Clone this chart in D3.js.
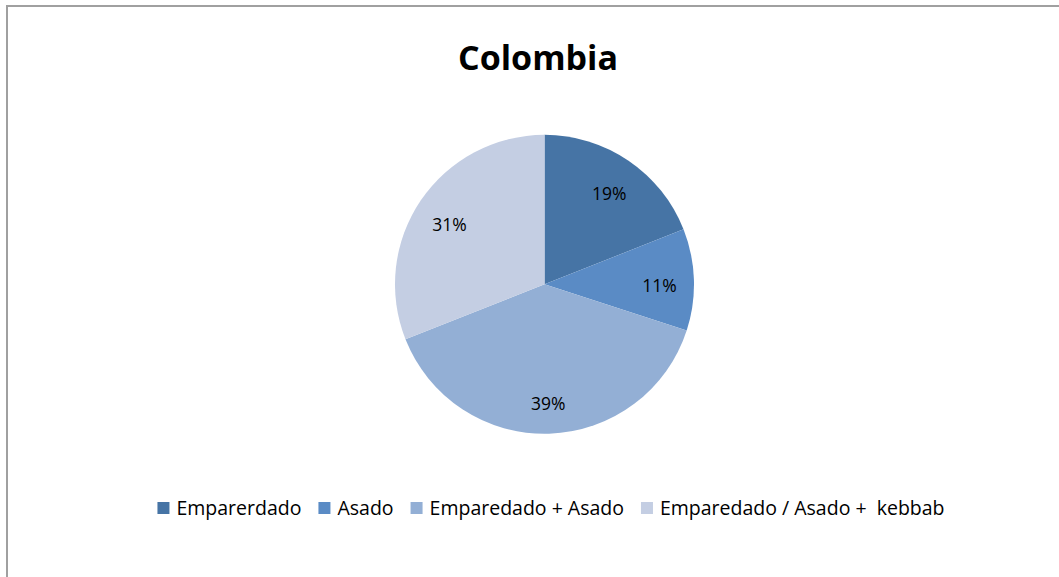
<!DOCTYPE html>
<html>
<head>
<meta charset="utf-8">
<script src="https://cdn.jsdelivr.net/npm/d3@7"></script>
<style>
  html, body { margin: 0; padding: 0; background: #fff; }
  svg { display: block; }
</style>
</head>
<body>
<svg id="chart" width="1059" height="577"></svg>
<script>
// Survey shares for Colombia (percent)
const categories = ["Emparerdado", "Asado", "Emparedado + Asado", "Emparedado / Asado +  kebbab"];
const values = [19, 11, 39, 31];
const colors = ["#4674a5", "#5a8bc5", "#93afd5", "#c4cee3"];
const title = "Colombia";

const width = 1059, height = 577;
const svg = d3.select("#chart");

// Chart area frame (runs off the right and bottom edges)
svg.append("rect")
  .attr("x", 7).attr("y", 6)
  .attr("width", 1100).attr("height", 620)
  .attr("fill", "#fff")
  .attr("stroke", "#a0a0a0")
  .attr("stroke-width", 2);

// Title
svg.append("text")
  .attr("x", 538).attr("y", 70)
  .attr("text-anchor", "middle")
  .attr("font-family", "'Open Sans', sans-serif")
  .attr("font-weight", "bold")
  .attr("font-size", 34)
  .attr("fill", "#000")
  .text(title);

// Pie
const cx = 544.5, cy = 284.3, R = 149.5;
const pie = d3.pie().sort(null).value(d => d);
const arcs = pie(values);
const arc = d3.arc().innerRadius(0).outerRadius(R);
const labelArc = d3.arc().innerRadius(115).outerRadius(115);

const g = svg.append("g").attr("transform", `translate(${cx},${cy})`);
g.selectAll("path.slice")
  .data(arcs)
  .join("path")
  .attr("class", "slice")
  .attr("d", arc)
  .attr("fill", (d, i) => colors[i]);

g.selectAll("text.pct")
  .data(arcs)
  .join("text")
  .attr("class", "pct")
  .attr("transform", d => {
    const [lx, ly] = labelArc.centroid(d);
    return `translate(${lx},${ly + 5})`;
  })
  .attr("text-anchor", "middle")
  .attr("dy", "0.35em")
  .attr("font-family", "'Open Sans', sans-serif")
  .attr("font-size", 17.5)
  .attr("fill", "#000")
  .text(d => d.value + "%");

// Legend, centred under the pie
const legend = svg.append("g");
const fontSize = 19.5, box = 12, boxGap = 7, itemGap = 17;
const items = legend.selectAll("g.item")
  .data(categories)
  .join("g")
  .attr("class", "item");
items.append("rect")
  .attr("width", box).attr("height", box)
  .attr("y", -box / 2)
  .attr("fill", (d, i) => colors[i]);
items.append("text")
  .attr("x", box + boxGap)
  .attr("dy", "0.35em")
  .attr("font-family", "'Open Sans', sans-serif")
  .attr("font-size", fontSize)
  .attr("fill", "#000")
  .style("white-space", "pre")
  .attr("xml:space", "preserve")
  .text(d => d);

let x = 0;
const offsets = [];
items.each(function() {
  const w = d3.select(this).select("text").node().getComputedTextLength();
  offsets.push(x);
  x += box + boxGap + w + itemGap;
});
const total = x - itemGap;
const legendLeft = 551 - total / 2;
items.attr("transform", (d, i) => `translate(${legendLeft + offsets[i]},508)`);
</script>
</body>
</html>
